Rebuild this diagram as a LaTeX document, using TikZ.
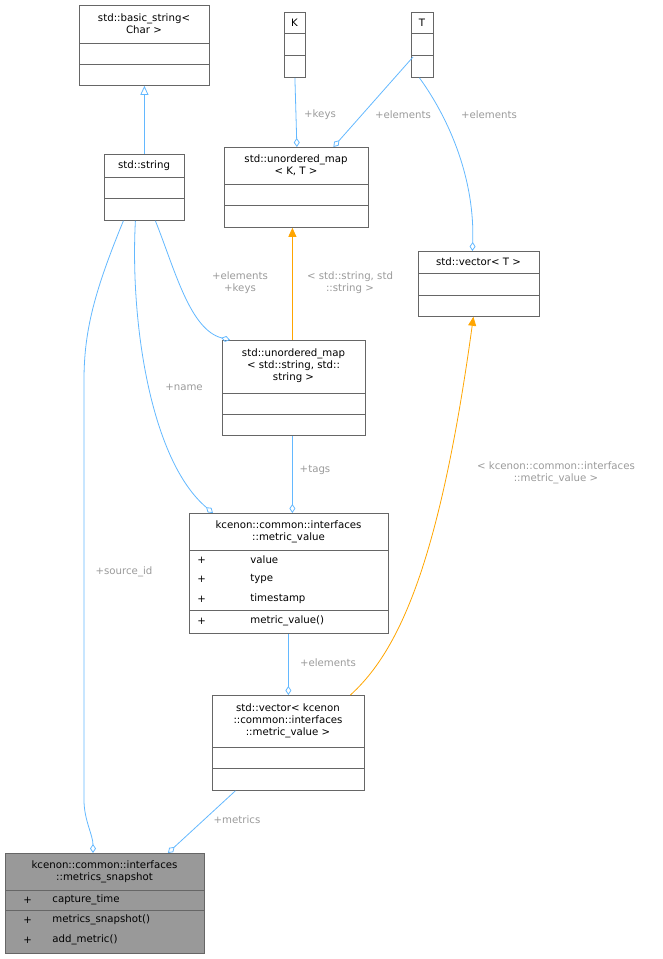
\documentclass[tikz,border=0pt]{standalone}
\usepackage{fontspec}
\setmainfont{DejaVu Sans}
\usetikzlibrary{arrows.meta}
\definecolor{eb}{HTML}{63B8FF}
\definecolor{eo}{HTML}{FFA500}
\definecolor{lg}{HTML}{9A9A9A}
\definecolor{bd}{HTML}{666666}
\definecolor{gf}{HTML}{999999}
\begin{document}
\begin{tikzpicture}[x=1pt,y=-1pt,font=\fontsize{10.2}{12}\selectfont,line width=0.8pt,
  box/.style={draw=bd,fill=white,inner sep=0,anchor=north west},
  sep/.style={draw=bd},
  txt/.style={inner sep=0,align=center},
  mem/.style={inner sep=0,anchor=west},
  lbl/.style={inner sep=0,align=center,text=lg},
  comp/.style={draw=eb,-{Diamond[open,length=9pt,width=6pt]}},
  inh/.style={draw=eb,-{Triangle[open,length=9pt,width=8pt]}},
  tmpl/.style={draw=eo,-{Triangle[length=9pt,width=8pt]}}]
\useasboundingbox (0,0) rectangle (663,959);
\newcommand\ubox[7]{% name,x1,y1,x2,y2,s1,s2
  \node[box,minimum width=#4pt-#2pt,minimum height=#5pt-#3pt] (#1) at (#2,#3) {};
  \draw[sep] (#2,#6) -- (#4,#6); \draw[sep] (#2,#7) -- (#4,#7);}
% boxes
\ubox{bs}{79}{5}{209}{85}{43}{64}
\node[txt] (bst) at (144,24) {std::basic\_string<\\Char >};
\ubox{K}{284}{12}{305}{77}{33}{55}
\node[txt] (Kt) at (294.5,22.5) {K};
\ubox{T}{411}{12}{433}{77}{33}{55}
\node[txt] (Tt) at (422,22.5) {T};
\ubox{str}{104}{154}{184}{220}{177}{198}
\node[txt] (strt) at (144,166) {std::string};
\ubox{um}{224}{147}{368}{227}{184}{205}
\node[txt] (umt) at (296,165.5) {std::unordered\_map\\< K, T >};
\ubox{vt}{418}{251}{539}{316}{273}{295}
\node[txt] (vtt) at (478.5,262) {std::vector< T >};
\ubox{ums}{222}{340}{365}{435}{393}{414}
\node[txt] (umst) at (293.5,366) {std::unordered\_map\\< std::string, std::\\string >};
\ubox{mv}{189}{513}{388}{633}{550}{610}
\node[txt] (mvt) at (288.5,531.5) {kcenon::common::interfaces\\::metric\_value};
\node[mem] at (197,560) {+}; \node[mem] at (250,560) {value};
\node[mem] at (197,579) {+}; \node[mem] at (250,579) {type};
\node[mem] at (197,599) {+}; \node[mem] at (250,599) {timestamp};
\node[mem] at (197,621) {+}; \node[mem] at (250,621) {metric\_value()};
\ubox{vmv}{212}{695}{364}{790}{747}{768}
\node[txt] (vmvt) at (288,721) {std::vector< kcenon\\::common::interfaces\\::metric\_value >};
\node[box,fill=gf,minimum width=199pt,minimum height=100pt] (ms) at (5,853) {};
\draw[sep] (5,890) -- (204,890); \draw[sep] (5,910) -- (204,910);
\node[txt] (mst) at (104.5,871.5) {kcenon::common::interfaces\\::metrics\_snapshot};
\node[mem] at (23,900) {+}; \node[mem] at (52,900) {capture\_time};
\node[mem] at (23,920) {+}; \node[mem] at (52,920) {metrics\_snapshot()};
\node[mem] at (23,940) {+}; \node[mem] at (52,940) {add\_metric()};
% edges
\draw[inh] (str.north) -- (bs.south);
\draw[comp] (K.south) -- ([xshift=0.5pt]um.north);
\draw[comp] ([xshift=2pt]T.south west|-0,57) -- ([xshift=37pt]um.north);
\draw[comp] ([xshift=-3pt]T.south) .. controls (450,120) and (475,180) .. ([xshift=-6.5pt]vt.north);
\draw[tmpl] ([xshift=-1.5pt]ums.north) -- ([xshift=-4pt]um.south);
\draw[comp] ([xshift=11pt]str.south) .. controls (175,270) and (190,330) .. ([xshift=8pt]ums.north west);
\draw[comp] ([xshift=-9pt]str.south) .. controls (130,320) and (150,460) .. ([xshift=24pt]mv.north west);
\draw[comp] ([xshift=-21pt]str.south) .. controls (95,290) and (84,330) .. (84,380) -- (84,800) .. controls (84,820) and (93,835) .. (93,853);
\draw[comp] ([xshift=-1.5pt]ums.south) -- ([xshift=3.5pt]mv.north);
\draw[comp] ([xshift=-0.5pt]mv.south) -- (vmv.north);
\draw[tmpl] ([xshift=62pt]vmv.north) .. controls (400,650) and (440,560) .. ([xshift=-5.5pt]vt.south);
\draw[comp] ([xshift=-53pt]vmv.south) -- ([xshift=63pt]ms.north);
% labels
\node[lbl] at (320,115) {+keys};
\node[lbl] at (403,115) {+elements};
\node[lbl] at (489,115) {+elements};
\node[lbl] at (350,283) {< std::string, std\\::string >};
\node[lbl] at (240,283) {+elements\\+keys};
\node[lbl] at (184,387) {+name};
\node[lbl] at (124,572) {+source\_id};
\node[lbl] at (315,470) {+tags};
\node[lbl] at (328,663) {+elements};
\node[lbl] at (556,473) {< kcenon::common::interfaces\\::metric\_value >};
\node[lbl] at (237,820) {+metrics};
\end{tikzpicture}
\end{document}
